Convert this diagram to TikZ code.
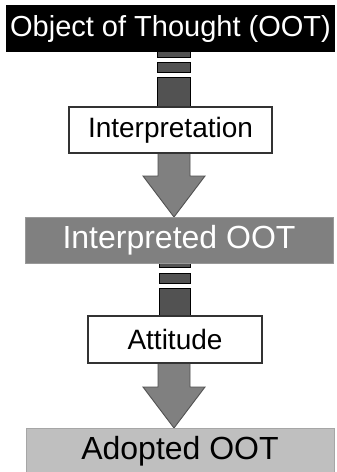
\documentclass[tikz,border=0pt]{standalone}
\usepackage{fontspec}
\setmainfont{Liberation Sans}
\usetikzlibrary{calc,backgrounds}
\begin{document}
\begin{tikzpicture}[x=1pt,y=-1pt,
  stage/.style={inner sep=0pt,outer sep=0pt,minimum height=46pt},
  label/.style={inner sep=0pt,outer sep=0pt,draw=black!80,line width=1.2pt,fill=white,
    minimum height=46pt,font=\fontsize{28}{34}\selectfont},
  bar/.style={fill=black!68,draw=black,line width=1pt},
  blockarrow/.style={fill=black!50,draw=black!68,line width=0.9pt,line join=miter}]
\useasboundingbox (0,0) rectangle (337,472);

% stages and process labels
\node[stage,fill=black,text=white,minimum width=329pt,minimum height=47pt,
  font=\fontsize{29}{34}\selectfont] (oot) at (170.5,28.5) {Object of Thought (OOT)};
\node[label,minimum width=203pt] (interp) at (170.5,130) {Interpretation};
\node[stage,fill=black!50,draw=black!40,line width=0.6pt,text=white,minimum width=308pt,
  font=\fontsize{32}{38}\selectfont] (ioot) at (179,240) {Interpreted OOT};
\node[label,minimum width=174pt,minimum height=47pt] (att) at (175,339.5) {Attitude};
\node[stage,fill=black!25,draw=black!35,line width=0.6pt,text=black,minimum width=308pt,
  font=\fontsize{32}{38}\selectfont] (aoot) at (180,451) {Adopted OOT};

\begin{scope}[on background layer]
  \fill[white] (0,0) rectangle (337,472);
  % dashed feed from the object to the interpretation step
  \coordinate (b1) at ($(oot.south)+(3,0)$);
  \draw[bar] ($(b1)+(-16.5,-3)$) rectangle ($(b1)+(16.5,5)$);
  \draw[bar] ($(b1)+(-16.5,10)$) rectangle ($(b1)+(16.5,20)$);
  \draw[bar] ($(b1)+(-16.5,25)$) rectangle ($(b1 |- interp.north)+(16.5,2)$);
  % block arrow into the interpreted object
  \coordinate (a1) at ($(interp.south)+(3.5,0)$);
  \draw[blockarrow] ($(a1)+(-16,-2)$) -- ($(a1)+(-16,23)$) -- ($(a1)+(-31,23)$)
    -- (a1 |- ioot.north) -- ($(a1)+(31,23)$) -- ($(a1)+(16,23)$) -- ($(a1)+(16,-2)$);
  % dashed feed from the interpreted object to the attitude step
  \coordinate (b2) at ($(ioot.south)+(-4.5,0)$);
  \draw[bar] ($(b2)+(-15.5,-3)$) rectangle ($(b2)+(15.5,4)$);
  \draw[bar] ($(b2)+(-15.5,10)$) rectangle ($(b2)+(15.5,20)$);
  \draw[bar] ($(b2)+(-15.5,25)$) rectangle ($(b2 |- att.north)+(15.5,2)$);
  % block arrow into the adopted object
  \coordinate (a2) at ($(att.south)+(-1,0)$);
  \draw[blockarrow] ($(a2)+(-16,-2)$) -- ($(a2)+(-16,24)$) -- ($(a2)+(-31,24)$)
    -- (a2 |- aoot.north) -- ($(a2)+(31,24)$) -- ($(a2)+(16,24)$) -- ($(a2)+(16,-2)$);
\end{scope}
\end{tikzpicture}
\end{document}
